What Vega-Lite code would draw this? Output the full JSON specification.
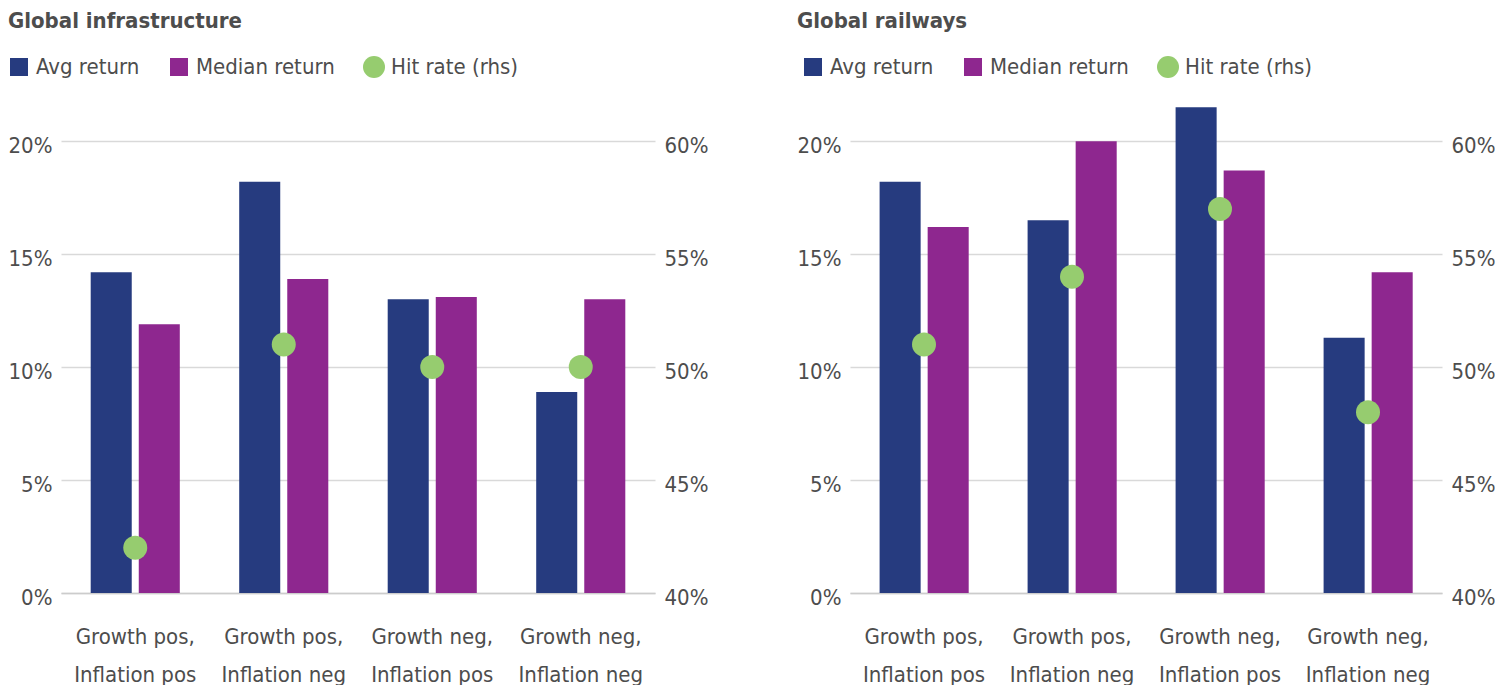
{
  "$schema": "https://vega.github.io/schema/vega-lite/v6.json",
  "background": "white",
  "padding": {"left": 8, "top": 10, "right": 0, "bottom": 0},
  "config": {
    "font": "DejaVu Sans Condensed",
    "view": {"stroke": null},
    "axis": {
      "labelFont": "DejaVu Sans Condensed",
      "labelFontSize": 22,
      "labelColor": "#4d4d4d",
      "ticks": false,
      "domain": false,
      "title": null
    },
    "title": {
      "font": "DejaVu Sans Condensed",
      "fontSize": 22,
      "fontWeight": "bold",
      "color": "#4d4d4d",
      "anchor": "start",
      "frame": "bounds",
      "offset": 23
    },
    "legend": {
      "orient": "none",
      "direction": "horizontal",
      "title": null,
      "labelFont": "DejaVu Sans Condensed",
      "labelFontSize": 22,
      "labelColor": "#4d4d4d",
      "labelOffset": 6,
      "columnPadding": 28,
      "symbolStrokeWidth": 0
    }
  },
  "datasets": {
    "infra_returns": [
      {"regime": "Growth pos, Inflation pos", "series": "Avg return", "value": 14.2},
      {"regime": "Growth pos, Inflation pos", "series": "Median return", "value": 11.9},
      {"regime": "Growth pos, Inflation neg", "series": "Avg return", "value": 18.2},
      {"regime": "Growth pos, Inflation neg", "series": "Median return", "value": 13.9},
      {"regime": "Growth neg, Inflation pos", "series": "Avg return", "value": 13.0},
      {"regime": "Growth neg, Inflation pos", "series": "Median return", "value": 13.1},
      {"regime": "Growth neg, Inflation neg", "series": "Avg return", "value": 8.9},
      {"regime": "Growth neg, Inflation neg", "series": "Median return", "value": 13.0}
    ],
    "infra_hit": [
      {"regime": "Growth pos, Inflation pos", "hit": 42},
      {"regime": "Growth pos, Inflation neg", "hit": 51},
      {"regime": "Growth neg, Inflation pos", "hit": 50},
      {"regime": "Growth neg, Inflation neg", "hit": 50}
    ],
    "rail_returns": [
      {"regime": "Growth pos, Inflation pos", "series": "Avg return", "value": 18.2},
      {"regime": "Growth pos, Inflation pos", "series": "Median return", "value": 16.2},
      {"regime": "Growth pos, Inflation neg", "series": "Avg return", "value": 16.5},
      {"regime": "Growth pos, Inflation neg", "series": "Median return", "value": 20.0},
      {"regime": "Growth neg, Inflation pos", "series": "Avg return", "value": 21.5},
      {"regime": "Growth neg, Inflation pos", "series": "Median return", "value": 18.7},
      {"regime": "Growth neg, Inflation neg", "series": "Avg return", "value": 11.3},
      {"regime": "Growth neg, Inflation neg", "series": "Median return", "value": 14.2}
    ],
    "rail_hit": [
      {"regime": "Growth pos, Inflation pos", "hit": 51},
      {"regime": "Growth pos, Inflation neg", "hit": 54},
      {"regime": "Growth neg, Inflation pos", "hit": 57},
      {"regime": "Growth neg, Inflation neg", "hit": 48}
    ]
  },
  "spacing": 89,
  "resolve": {"scale": {"color": "independent"}, "legend": {"color": "independent"}},
  "hconcat": [
    {
      "title": "Global infrastructure",
      "width": 594,
      "height": 497,
      "encoding": {
        "x": {
          "field": "regime",
          "type": "nominal",
          "sort": ["Growth pos, Inflation pos", "Growth pos, Inflation neg", "Growth neg, Inflation pos", "Growth neg, Inflation neg"],
          "scale": {"paddingInner": 0.4, "paddingOuter": 0.2},
          "axis": {
            "labelAngle": 0,
            "domain": true,
            "domainColor": "#cccccc",
            "domainWidth": 1.5,
            "labelPadding": 33,
            "labelLineHeight": 38,
            "labelExpr": "[slice(datum.label, 0, indexof(datum.label, ',') + 1), slice(datum.label, indexof(datum.label, ',') + 2)]"
          }
        }
      },
      "layer": [
        {
          "data": {"name": "infra_returns"},
          "mark": {"type": "bar"},
          "encoding": {
            "xOffset": {"field": "series", "type": "nominal", "sort": ["Avg return", "Median return"], "scale": {"paddingInner": 0.146, "paddingOuter": 0}},
            "y": {
              "field": "value",
              "type": "quantitative",
              "scale": {"domain": [0, 22], "nice": false},
              "axis": {"values": [0, 5, 10, 15, 20], "labelExpr": "datum.value + '%'", "grid": true, "gridColor": "#d9d9d9", "gridWidth": 1.5, "labelPadding": 9, "labelOffset": 4}
            },
            "color": {
              "field": "series",
              "type": "nominal",
              "scale": {"domain": ["Avg return", "Median return", "Hit rate (rhs)"], "range": ["#263b7f", "#8e278f", "#96cc6f"]},
              "legend": {
                "legendX": -53,
                "legendY": -40,
                "encode": {
                  "symbols": {
                    "update": {
                      "shape": {"signal": "datum.value === 'Hit rate (rhs)' ? 'circle' : 'square'"},
                      "size": {"signal": "datum.value === 'Hit rate (rhs)' ? 484 : 324"},
                      "strokeWidth": {"value": 0},
                      "opacity": {"value": 1}
                    }
                  }
                }
              }
            }
          }
        },
        {
          "data": {"name": "infra_hit"},
          "mark": {"type": "point", "filled": true, "size": 576, "opacity": 1},
          "encoding": {
            "y": {
              "field": "hit",
              "type": "quantitative",
              "scale": {"domain": [40, 62], "nice": false},
              "axis": {"orient": "right", "values": [40, 45, 50, 55, 60], "labelExpr": "datum.value + '%'", "grid": false, "labelPadding": 9, "labelOffset": 4}
            },
            "color": {"datum": "Hit rate (rhs)", "type": "nominal"}
          }
        }
      ],
      "resolve": {"scale": {"y": "independent"}}
    },
    {
      "title": "Global railways",
      "width": 592,
      "height": 497,
      "encoding": {
        "x": {
          "field": "regime",
          "type": "nominal",
          "sort": ["Growth pos, Inflation pos", "Growth pos, Inflation neg", "Growth neg, Inflation pos", "Growth neg, Inflation neg"],
          "scale": {"paddingInner": 0.4, "paddingOuter": 0.2},
          "axis": {
            "labelAngle": 0,
            "domain": true,
            "domainColor": "#cccccc",
            "domainWidth": 1.5,
            "labelPadding": 33,
            "labelLineHeight": 38,
            "labelExpr": "[slice(datum.label, 0, indexof(datum.label, ',') + 1), slice(datum.label, indexof(datum.label, ',') + 2)]"
          }
        }
      },
      "layer": [
        {
          "data": {"name": "rail_returns"},
          "mark": {"type": "bar"},
          "encoding": {
            "xOffset": {"field": "series", "type": "nominal", "sort": ["Avg return", "Median return"], "scale": {"paddingInner": 0.146, "paddingOuter": 0}},
            "y": {
              "field": "value",
              "type": "quantitative",
              "scale": {"domain": [0, 22], "nice": false},
              "axis": {"values": [0, 5, 10, 15, 20], "labelExpr": "datum.value + '%'", "grid": true, "gridColor": "#d9d9d9", "gridWidth": 1.5, "labelPadding": 9, "labelOffset": 4}
            },
            "color": {
              "field": "series",
              "type": "nominal",
              "scale": {"domain": ["Avg return", "Median return", "Hit rate (rhs)"], "range": ["#263b7f", "#8e278f", "#96cc6f"]},
              "legend": {
                "legendX": -48,
                "legendY": -40,
                "encode": {
                  "symbols": {
                    "update": {
                      "shape": {"signal": "datum.value === 'Hit rate (rhs)' ? 'circle' : 'square'"},
                      "size": {"signal": "datum.value === 'Hit rate (rhs)' ? 484 : 324"},
                      "strokeWidth": {"value": 0},
                      "opacity": {"value": 1}
                    }
                  }
                }
              }
            }
          }
        },
        {
          "data": {"name": "rail_hit"},
          "mark": {"type": "point", "filled": true, "size": 576, "opacity": 1},
          "encoding": {
            "y": {
              "field": "hit",
              "type": "quantitative",
              "scale": {"domain": [40, 62], "nice": false},
              "axis": {"orient": "right", "values": [40, 45, 50, 55, 60], "labelExpr": "datum.value + '%'", "grid": false, "labelPadding": 9, "labelOffset": 4}
            },
            "color": {"datum": "Hit rate (rhs)", "type": "nominal"}
          }
        }
      ],
      "resolve": {"scale": {"y": "independent"}}
    }
  ]
}
